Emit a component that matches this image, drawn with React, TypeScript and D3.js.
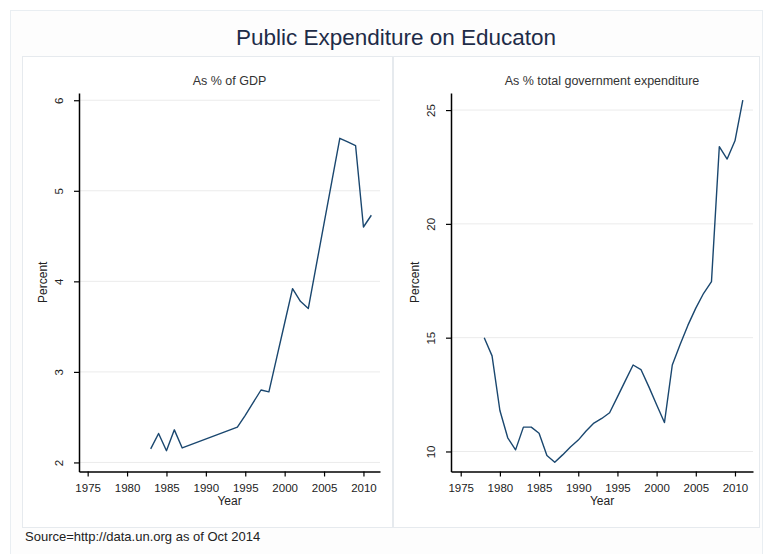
import * as d3 from "d3";
import { useEffect, useRef } from "react";

// data
const gdpYears = [1983, 1984, 1985, 1986, 1987, 1994, 1995, 1996, 1997, 1998, 1999, 2000, 2001, 2002, 2003, 2004, 2005, 2006, 2007, 2008, 2009, 2010, 2011];
const gdpValues = [2.15, 2.32, 2.13, 2.36, 2.16, 2.39, 2.52, 2.66, 2.8, 2.78, 3.16, 3.54, 3.92, 3.78, 3.7, 4.17, 4.64, 5.11, 5.58, 5.54, 5.5, 4.6, 4.73];

const govYears = [1978, 1979, 1980, 1981, 1982, 1983, 1984, 1985, 1986, 1987, 1988, 1989, 1990, 1991, 1992, 1993, 1994, 1995, 1996, 1997, 1998, 1999, 2000, 2001, 2002, 2003, 2004, 2005, 2006, 2007, 2008, 2009, 2010, 2011];
const govValues = [15.0, 14.2, 11.8, 10.6, 10.07, 11.07, 11.07, 10.8, 9.82, 9.53, 9.85, 10.2, 10.5, 10.9, 11.25, 11.45, 11.7, 12.4, 13.1, 13.8, 13.6, 12.85, 12.05, 11.27, 13.8, 14.7, 15.55, 16.3, 16.95, 17.46, 23.39, 22.85, 23.65, 25.44];

const yearTicks = [1975, 1980, 1985, 1990, 1995, 2000, 2005, 2010];
const gdpTicks = [2, 3, 4, 5, 6];
const govTicks = [10, 15, 20, 25];

const font = "'Liberation Sans', Arial, sans-serif";
const lineColor = "#1a476f";

interface IPanel {
  title: string;
  years: number[];
  values: number[];
  yTicks: number[];
  box: [number, number, number, number];
  plot: { left: number; right: number; top: number; bottom: number };
  xDomain: [number, number];
  yDomain: [number, number];
}

const drawPanel = (svg: d3.Selection<SVGSVGElement, unknown, null, undefined>, p: IPanel) => {
  svg
    .append("rect")
    .attr("x", p.box[0])
    .attr("y", p.box[1])
    .attr("width", p.box[2])
    .attr("height", p.box[3])
    .attr("fill", "#ffffff")
    .attr("stroke", "#e6eaee");

  const x = d3.scaleLinear().domain(p.xDomain).range([p.plot.left, p.plot.right]);
  const y = d3.scaleLinear().domain(p.yDomain).range([p.plot.bottom, p.plot.top]);
  const g = svg.append("g");

  // grid
  g.selectAll(".grid")
    .data(p.yTicks)
    .enter()
    .append("line")
    .attr("x1", p.plot.left)
    .attr("x2", p.plot.right)
    .attr("y1", d => y(d))
    .attr("y2", d => y(d))
    .attr("stroke", "#ebebeb")
    .attr("stroke-width", 1);

  // y axis
  const yAxis = g
    .append("g")
    .attr("transform", "translate(" + p.plot.left + ",0)")
    .call(d3.axisLeft(y).tickValues(p.yTicks).tickSize(5).tickSizeOuter(0).tickFormat(d3.format("d")));
  yAxis.select(".domain").attr("stroke", "#000").attr("stroke-width", 1.5);
  yAxis.selectAll(".tick line").attr("stroke", "#000").attr("stroke-width", 1.2);
  yAxis
    .selectAll(".tick text")
    .attr("font-family", font)
    .attr("font-size", 11.5)
    .attr("fill", "#222")
    .attr("x", 0)
    .attr("dy", 0)
    .attr("text-anchor", "middle")
    .attr("transform", "translate(-16,0) rotate(-90)");

  // x axis
  const xAxis = g
    .append("g")
    .attr("transform", "translate(0," + p.plot.bottom + ")")
    .call(d3.axisBottom(x).tickValues(yearTicks).tickSize(5).tickSizeOuter(0).tickFormat(d3.format("d")));
  xAxis.select(".domain").attr("stroke", "#000").attr("stroke-width", 1.5);
  xAxis.selectAll(".tick line").attr("stroke", "#000").attr("stroke-width", 1.2);
  xAxis
    .selectAll(".tick text")
    .attr("font-family", font)
    .attr("font-size", 11.5)
    .attr("fill", "#222")
    .attr("y", 10)
    .attr("dy", "0.9em");

  // labels
  const midX = (p.plot.left + p.plot.right) / 2;
  const midY = (p.plot.top + p.plot.bottom) / 2;
  g.append("text")
    .attr("x", midX)
    .attr("y", 85)
    .attr("text-anchor", "middle")
    .attr("font-family", font)
    .attr("font-size", 12.5)
    .attr("fill", "#333")
    .text(p.title);
  g.append("text")
    .attr("x", midX)
    .attr("y", p.plot.bottom + 33)
    .attr("text-anchor", "middle")
    .attr("font-family", font)
    .attr("font-size", 12)
    .attr("fill", "#222")
    .text("Year");
  g.append("text")
    .attr("transform", "translate(" + (p.plot.left - 32) + "," + midY + ") rotate(-90)")
    .attr("text-anchor", "middle")
    .attr("font-family", font)
    .attr("font-size", 12)
    .attr("fill", "#222")
    .text("Percent");

  // series
  const pts = p.years.map((yr, i) => [yr, p.values[i]] as [number, number]);
  g.append("path")
    .datum(pts)
    .attr("fill", "none")
    .attr("stroke", lineColor)
    .attr("stroke-width", 1.4)
    .attr("stroke-linejoin", "round")
    .attr(
      "d",
      d3
        .line<[number, number]>()
        .x(d => x(d[0]))
        .y(d => y(d[1]))
    );
};

export default function App() {
  const ref = useRef<SVGSVGElement>(null);

  useEffect(() => {
    if (!ref.current) return;
    const svg = d3.select(ref.current);
    svg.selectAll("*").remove();

    svg.append("rect").attr("width", 768).attr("height", 554).attr("fill", "#ffffff");
    svg
      .append("rect")
      .attr("x", 10.5)
      .attr("y", 10.5)
      .attr("width", 752)
      .attr("height", 550)
      .attr("fill", "#fdfdfd")
      .attr("stroke", "#e9eef2");

    svg
      .append("text")
      .attr("x", 396)
      .attr("y", 45)
      .attr("text-anchor", "middle")
      .attr("font-family", font)
      .attr("font-size", 22.5)
      .attr("fill", "#1e2c48")
      .text("Public Expenditure on Educaton");

    drawPanel(svg as any, {
      title: "As % of GDP",
      years: gdpYears,
      values: gdpValues,
      yTicks: gdpTicks,
      box: [22.5, 56.5, 370, 471],
      plot: { left: 79, right: 380, top: 93, bottom: 471.5 },
      xDomain: [1973.9, 2012.1],
      yDomain: [1.9, 6.08]
    });

    drawPanel(svg as any, {
      title: "As % total government expenditure",
      years: govYears,
      values: govValues,
      yTicks: govTicks,
      box: [393.5, 56.5, 366, 471],
      plot: { left: 451, right: 753, top: 93, bottom: 471.5 },
      xDomain: [1973.76, 2012.3],
      yDomain: [9.12, 25.75]
    });

    svg
      .append("text")
      .attr("x", 25)
      .attr("y", 541)
      .attr("font-family", font)
      .attr("font-size", 13)
      .attr("fill", "#222")
      .text("Source=http://data.un.org as of Oct 2014");
  }, []);

  return (
    <svg
      ref={ref}
      width={768}
      height={554}
      style={{ position: "absolute", left: 0, top: 0, display: "block" }}
    />
  );
}
